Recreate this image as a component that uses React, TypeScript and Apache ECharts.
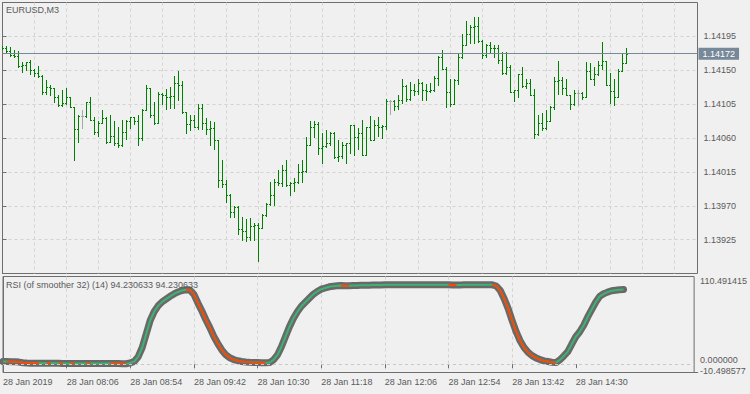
import React, { useEffect, useRef } from 'react';
import * as echarts from 'echarts';

const symbolName = 'EURUSD,M3';
const rsiTitle = 'RSI (of smoother 32) (14) 94.230633 94.230633';
const timeLabels = ['28 Jan 2019', '28 Jan 08:06', '28 Jan 08:54', '28 Jan 09:42', '28 Jan 10:30', '28 Jan 11:18', '28 Jan 12:06', '28 Jan 12:54', '28 Jan 13:42', '28 Jan 14:30'];
const labelStep = 16; // bars between time labels
const gridStep = 8; // bars between vertical grid lines

const priceMin = 1.1388;
const priceMax = 1.1424;
const priceStep = 0.00045;

const rsiMin = -10.498577;
const rsiMax = 110.491415;
const rsiLevel = 0;

const opens = [
  1.14181, 1.14180, 1.14176, 1.14170, 1.14169, 1.14156, 1.14157, 1.14161, 1.14150, 1.14146,
  1.14143, 1.14121, 1.14128, 1.14127, 1.14115, 1.14104, 1.14106, 1.14115, 1.14101, 1.14072,
  1.14089, 1.14089, 1.14108, 1.14084, 1.14068, 1.14080, 1.14086, 1.14055, 1.14062, 1.14053,
  1.14051, 1.14068, 1.14082, 1.14088, 1.14082, 1.14060, 1.14097, 1.14126, 1.14090, 1.14080,
  1.14118, 1.14117, 1.14115, 1.14116, 1.14133, 1.14131, 1.14095, 1.14078, 1.14084, 1.14075,
  1.14100, 1.14080, 1.14072, 1.14073, 1.14057, 1.14004, 1.13999, 1.13984, 1.13962, 1.13969,
  1.13939, 1.13937, 1.13928, 1.13943, 1.13944, 1.13941, 1.13958, 1.13972, 1.13984, 1.14002,
  1.14000, 1.14017, 1.13997, 1.14000, 1.14002, 1.14015, 1.14016, 1.14051, 1.14074, 1.14078,
  1.14047, 1.14049, 1.14054, 1.14066, 1.14035, 1.14036, 1.14051, 1.14053, 1.14077, 1.14061,
  1.14067, 1.14038, 1.14074, 1.14058, 1.14077, 1.14075, 1.14076, 1.14109, 1.14109, 1.14103,
  1.14111, 1.14129, 1.14112, 1.14124, 1.14123, 1.14133, 1.14124, 1.14122, 1.14124, 1.14140,
  1.14168, 1.14152, 1.14121, 1.14105, 1.14137, 1.14167, 1.14184, 1.14198, 1.14208, 1.14209,
  1.14189, 1.14170, 1.14183, 1.14179, 1.14180, 1.14164, 1.14146, 1.14154, 1.14121, 1.14124,
  1.14145, 1.14129, 1.14133, 1.14117, 1.14065, 1.14080, 1.14073, 1.14082, 1.14101, 1.14136,
  1.14137, 1.14126, 1.14117, 1.14105, 1.14120, 1.14120, 1.14114, 1.14149, 1.14139, 1.14145,
  1.14157, 1.14162, 1.14131, 1.14123, 1.14115, 1.14149, 1.14160,
];

const highs = [
  1.14182, 1.14182, 1.14181, 1.14177, 1.14176, 1.14161, 1.14161, 1.14163, 1.14152, 1.14155,
  1.14144, 1.14137, 1.14130, 1.14127, 1.14117, 1.14124, 1.14126, 1.14115, 1.14101, 1.14090,
  1.14097, 1.14108, 1.14114, 1.14088, 1.14083, 1.14097, 1.14088, 1.14090, 1.14083, 1.14075,
  1.14084, 1.14084, 1.14088, 1.14088, 1.14090, 1.14099, 1.14130, 1.14126, 1.14108, 1.14121,
  1.14120, 1.14125, 1.14128, 1.14142, 1.14149, 1.14136, 1.14095, 1.14090, 1.14090, 1.14105,
  1.14105, 1.14087, 1.14083, 1.14081, 1.14057, 1.14031, 1.14004, 1.13986, 1.13970, 1.13970,
  1.13955, 1.13952, 1.13954, 1.13947, 1.13947, 1.13959, 1.13974, 1.14002, 1.14006, 1.14017,
  1.14024, 1.14031, 1.14001, 1.14007, 1.14026, 1.14031, 1.14061, 1.14082, 1.14083, 1.14081,
  1.14066, 1.14070, 1.14068, 1.14068, 1.14057, 1.14055, 1.14054, 1.14077, 1.14077, 1.14073,
  1.14084, 1.14074, 1.14089, 1.14084, 1.14088, 1.14077, 1.14112, 1.14110, 1.14110, 1.14117,
  1.14138, 1.14130, 1.14135, 1.14132, 1.14139, 1.14135, 1.14132, 1.14133, 1.14143, 1.14169,
  1.14177, 1.14154, 1.14139, 1.14139, 1.14173, 1.14198, 1.14216, 1.14210, 1.14221, 1.14221,
  1.14190, 1.14185, 1.14188, 1.14183, 1.14183, 1.14174, 1.14174, 1.14157, 1.14124, 1.14145,
  1.14154, 1.14139, 1.14138, 1.14125, 1.14091, 1.14093, 1.14097, 1.14102, 1.14141, 1.14162,
  1.14141, 1.14138, 1.14117, 1.14124, 1.14124, 1.14121, 1.14161, 1.14159, 1.14154, 1.14162,
  1.14188, 1.14162, 1.14146, 1.14138, 1.14151, 1.14173, 1.14180,
];

const lows = [
  1.14178, 1.14174, 1.14169, 1.14168, 1.14154, 1.14148, 1.14150, 1.14145, 1.14143, 1.14141,
  1.14119, 1.14119, 1.14117, 1.14108, 1.14103, 1.14103, 1.14105, 1.14101, 1.14031, 1.14055,
  1.14073, 1.14088, 1.14084, 1.14065, 1.14063, 1.14080, 1.14053, 1.14055, 1.14051, 1.14048,
  1.14050, 1.14059, 1.14073, 1.14079, 1.14051, 1.14058, 1.14097, 1.14088, 1.14078, 1.14080,
  1.14105, 1.14099, 1.14100, 1.14100, 1.14110, 1.14093, 1.14067, 1.14070, 1.14074, 1.14072,
  1.14072, 1.14065, 1.14051, 1.14045, 1.13995, 1.13995, 1.13975, 1.13955, 1.13955, 1.13932,
  1.13925, 1.13923, 1.13925, 1.13925, 1.13897, 1.13940, 1.13957, 1.13971, 1.13971, 1.13997,
  1.13996, 1.13996, 1.13984, 1.13990, 1.14000, 1.14001, 1.14015, 1.14051, 1.14061, 1.14039,
  1.14027, 1.14048, 1.14051, 1.14033, 1.14030, 1.14034, 1.14027, 1.14040, 1.14037, 1.14045,
  1.14037, 1.14037, 1.14057, 1.14057, 1.14063, 1.14060, 1.14072, 1.14092, 1.14097, 1.14098,
  1.14106, 1.14109, 1.14111, 1.14117, 1.14118, 1.14111, 1.14110, 1.14121, 1.14123, 1.14131,
  1.14152, 1.14101, 1.14103, 1.14105, 1.14132, 1.14166, 1.14184, 1.14186, 1.14186, 1.14188,
  1.14166, 1.14168, 1.14174, 1.14167, 1.14159, 1.14145, 1.14145, 1.14121, 1.14109, 1.14114,
  1.14128, 1.14127, 1.14117, 1.14060, 1.14064, 1.14071, 1.14072, 1.14082, 1.14099, 1.14119,
  1.14118, 1.14117, 1.14099, 1.14104, 1.14104, 1.14112, 1.14114, 1.14138, 1.14131, 1.14144,
  1.14152, 1.14131, 1.14106, 1.14104, 1.14115, 1.14149, 1.14160,
];

const closes = [
  1.14180, 1.14176, 1.14170, 1.14169, 1.14156, 1.14157, 1.14161, 1.14150, 1.14146, 1.14143,
  1.14121, 1.14128, 1.14127, 1.14115, 1.14104, 1.14106, 1.14115, 1.14101, 1.14072, 1.14089,
  1.14089, 1.14108, 1.14084, 1.14068, 1.14080, 1.14086, 1.14055, 1.14062, 1.14053, 1.14051,
  1.14068, 1.14082, 1.14088, 1.14082, 1.14060, 1.14097, 1.14126, 1.14090, 1.14080, 1.14118,
  1.14117, 1.14115, 1.14116, 1.14133, 1.14131, 1.14095, 1.14078, 1.14084, 1.14075, 1.14100,
  1.14080, 1.14072, 1.14073, 1.14057, 1.14004, 1.13999, 1.13984, 1.13962, 1.13969, 1.13939,
  1.13937, 1.13928, 1.13943, 1.13944, 1.13941, 1.13958, 1.13972, 1.13984, 1.14002, 1.14000,
  1.14017, 1.13997, 1.14000, 1.14002, 1.14015, 1.14016, 1.14051, 1.14074, 1.14078, 1.14047,
  1.14049, 1.14054, 1.14066, 1.14035, 1.14036, 1.14051, 1.14053, 1.14077, 1.14061, 1.14067,
  1.14038, 1.14074, 1.14058, 1.14077, 1.14075, 1.14076, 1.14109, 1.14109, 1.14103, 1.14111,
  1.14129, 1.14112, 1.14124, 1.14123, 1.14133, 1.14124, 1.14122, 1.14124, 1.14140, 1.14168,
  1.14152, 1.14121, 1.14105, 1.14137, 1.14167, 1.14184, 1.14198, 1.14208, 1.14209, 1.14189,
  1.14170, 1.14183, 1.14179, 1.14180, 1.14164, 1.14146, 1.14154, 1.14121, 1.14124, 1.14145,
  1.14129, 1.14133, 1.14117, 1.14065, 1.14080, 1.14073, 1.14082, 1.14101, 1.14136, 1.14137,
  1.14126, 1.14117, 1.14105, 1.14120, 1.14120, 1.14114, 1.14149, 1.14139, 1.14145, 1.14157,
  1.14162, 1.14131, 1.14123, 1.14115, 1.14149, 1.14160, 1.14172,
];

const rsi = [
  3.3, 3.3, 3.2, 3.1, 2.6, 1.8, 1.4, 1.3, 1.3, 1.2,
  1.2, 1.2, 1.1, 1.1, 1.1, 1.0, 1.0, 1.0, 0.9, 0.9,
  0.9, 0.9, 0.8, 0.8, 0.8, 0.8, 0.8, 0.8, 0.75, 0.7,
  0.65, 0.6, 1.6, 3.5, 9.5, 21, 38, 55, 66, 73.5,
  78.5, 82, 85.5, 88.5, 91, 92.8, 93.8, 93.4, 88, 77,
  67, 56, 46, 35, 26, 18, 12, 8, 5.8, 4.3,
  3.3, 2.7, 2.3, 2.1, 2.0, 1.9, 1.85, 2.0, 5.4, 11.6,
  22, 34.5, 47, 57.5, 66, 73, 78, 83, 88, 91.6,
  94.5, 96, 97.5, 98.2, 98.7, 99.0, 98.8, 98.7, 99.1, 99.3,
  99.4, 99.5, 99.6, 99.7, 99.8, 99.9, 100, 100, 100, 100,
  100, 100, 100, 100, 100, 100, 100, 100, 100, 100,
  100, 100, 100, 99.8, 99.7, 99.9, 100, 100, 100, 100,
  100, 100, 100, 100, 98.5, 93, 82.5, 70, 55, 41,
  29.5, 21, 15, 10.8, 7.9, 5.8, 4.1, 3.3, 2.5, 2.0,
  5.4, 10.4, 15.8, 25.4, 34.5, 40.8, 49, 59.5, 68.8, 78,
  85.4, 88.7, 90.8, 92.5, 93.2, 93.8, 94.23,
];

const FONT = '"Liberation Sans", Arial, sans-serif';
const BG = '#f0f0f0';
const FRAME = '#6e6e6e';
const TEXT = '#5a5a5a';
const GRIDC = '#d2d2d2';
const BAR = '#008000';
const DOJI = '#a8a8a8';
const PRICE_LINE = '#778899';

export default function App() {
  const ref = useRef<HTMLDivElement>(null);
  useEffect(() => {
    if (!ref.current) return;
    const chart = echarts.init(ref.current, undefined, { renderer: 'svg' });
    const n = closes.length;
    const barData = closes.map((c, i) => [i, opens[i], highs[i], lows[i], c]);
    const rsiData = rsi.map((v, i) => [i, v]);
    const downData = rsi.map((v, i) => {
      const d1 = i > 0 && v < rsi[i - 1];
      const d2 = i < rsi.length - 1 && rsi[i + 1] < v;
      return d1 || d2 ? [i, v] : [i, null];
    });
    const tickPos = timeLabels.map((_, k) => k * labelStep);
    const xMax = 173.75;
    const last = closes[n - 1];

    const splitDash = { show: true, showMinLine: false, showMaxLine: false, lineStyle: { color: GRIDC, type: [3, 3], width: 1 } };
    const labelStyle = { fontFamily: FONT, fontSize: 9, color: TEXT };

    const rsiAxis = (values: number[], rich: any, show: boolean) => ({
      type: 'value', gridIndex: 1, position: 'right', min: rsiMin, max: rsiMax,
      axisLine: { show, lineStyle: { color: FRAME } },
      axisTick: { show: true, length: 4, customValues: values, lineStyle: { color: FRAME } },
      axisLabel: {
        ...labelStyle, margin: 6, customValues: values, showMinLabel: true, showMaxLabel: true,
        formatter: (v: number) => '{' + (v > 50 ? 't' : v < -1 ? 'b' : 'm') + '|' + v.toFixed(6) + '}',
        rich,
      },
      splitLine: { show: false },
    });
    const rich = {
      t: { ...labelStyle, lineHeight: 10, padding: [9, 0, 0, 0] },
      b: { ...labelStyle, lineHeight: 10, padding: [0, 0, 3, 0] },
      m: { ...labelStyle, lineHeight: 10, padding: [0, 0, 8, 0] },
    };

    const option: any = {
      animation: false,
      backgroundColor: BG,
      textStyle: { fontFamily: FONT, fontSize: 9 },
      title: [
        { text: symbolName, left: 6, top: 5, padding: 0, textStyle: { ...labelStyle, fontWeight: 'normal' } },
        { text: rsiTitle, left: 6, top: 280, padding: 0, textStyle: { ...labelStyle, fontWeight: 'normal' } },
      ],
      grid: [
        { left: 2.5, top: 2.5, width: 695, height: 271, show: true, borderColor: FRAME, borderWidth: 1, backgroundColor: 'transparent' },
        { left: 2.5, top: 276.5, width: 695, height: 96, show: true, borderColor: FRAME, borderWidth: 1, backgroundColor: 'transparent' },
      ],
      xAxis: [
        {
          type: 'value', gridIndex: 0, min: 0, max: xMax, interval: gridStep,
          axisLine: { show: false }, axisTick: { show: false }, axisLabel: { show: false },
          splitLine: splitDash,
        },
        {
          type: 'value', gridIndex: 1, min: 0, max: xMax, interval: gridStep,
          axisLine: { show: false },
          axisTick: { show: true, length: 4, customValues: tickPos, lineStyle: { color: FRAME } },
          axisLabel: {
            ...labelStyle, align: 'left', margin: 5, showMaxLabel: false,
            formatter: (v: number) => (v % labelStep === 0 && v / labelStep < timeLabels.length ? timeLabels[v / labelStep] : ''),
          },
          splitLine: splitDash,
        },
      ],
      yAxis: [
        {
          type: 'value', gridIndex: 0, position: 'right', min: priceMin, max: priceMax, interval: priceStep,
          axisLine: { show: true, lineStyle: { color: FRAME } },
          axisTick: { show: true, length: 4, lineStyle: { color: FRAME } },
          axisLabel: { ...labelStyle, margin: 6, showMinLabel: false, showMaxLabel: false, formatter: (v: number) => v.toFixed(5) },
          splitLine: splitDash,
        },
        rsiAxis([rsiLevel, rsiMax], rich, true),
        rsiAxis([rsiMin], rich, false),
      ],
      series: [
        {
          type: 'custom', xAxisIndex: 0, yAxisIndex: 0, clip: true,
          data: barData,
          encode: { x: 0, y: [1, 2, 3, 4] },
          renderItem: (params: any, api: any) => {
            const i = api.value(0);
            const o = api.value(1), h = api.value(2), l = api.value(3), c = api.value(4);
            const pH = api.coord([i, h]);
            const pL = api.coord([i, l]);
            const pO = api.coord([i, o]);
            const pC = api.coord([i, c]);
            const col = Math.floor(pH[0] + 0.01);
            const color = o === c ? DOJI : BAR;
            const yTop = Math.round(pH[1]);
            const yBot = Math.round(pL[1]) + 1;
            const yo = Math.round(pO[1]) + 0.5;
            const yc = Math.round(pC[1]) + 0.5;
            return {
              type: 'group',
              children: [
                { type: 'line', shape: { x1: col + 0.5, y1: yTop, x2: col + 0.5, y2: Math.max(yBot, yTop + 1) }, style: { stroke: color, lineWidth: 1 } },
                { type: 'line', shape: { x1: col - 1, y1: yo, x2: col, y2: yo }, style: { stroke: color, lineWidth: 1 } },
                { type: 'line', shape: { x1: col + 1, y1: yc, x2: col + 2, y2: yc }, style: { stroke: color, lineWidth: 1 } },
              ],
            };
          },
          z: 3,
        },
        {
          type: 'line', xAxisIndex: 0, yAxisIndex: 0, data: [[n - 1, last]], symbol: 'none',
          lineStyle: { width: 0, opacity: 0 }, z: 2,
          markLine: {
            silent: true, symbol: 'none', animation: false, precision: 5,
            data: [{ yAxis: last }],
            lineStyle: { color: PRICE_LINE, width: 1, type: 'solid' },
            label: {
              show: true, position: 'end', distance: 1, formatter: () => last.toFixed(5),
              backgroundColor: PRICE_LINE, color: '#ffffff', fontFamily: FONT, fontSize: 9,
              padding: [1, 4, 1, 4], lineHeight: 10,
            },
          },
        },
        {
          type: 'line', xAxisIndex: 1, yAxisIndex: 1, data: rsiData, symbol: 'none', clip: true,
          lineStyle: { color: '#696969', width: 7, cap: 'round', join: 'round' }, z: 2,
        },
        {
          type: 'line', xAxisIndex: 1, yAxisIndex: 1, data: rsiData, symbol: 'none',
          lineStyle: { color: '#3cb371', width: 2 }, z: 3,
        },
        {
          type: 'line', xAxisIndex: 1, yAxisIndex: 1, data: downData, symbol: 'none', connectNulls: false,
          lineStyle: { color: '#ff4500', width: 2 }, z: 4,
          markLine: {
            silent: true, symbol: 'none', animation: false, precision: 6,
            data: [{ yAxis: rsiLevel }],
            lineStyle: { color: '#c8c8c8', width: 1, type: [3, 3] },
            label: { show: false },
          },
        },
      ],
    };
    chart.setOption(option);
    return () => chart.dispose();
  }, []);
  return <div ref={ref} style={{ position: 'fixed', left: 0, top: 0, width: 750, height: 394 }} />;
}
